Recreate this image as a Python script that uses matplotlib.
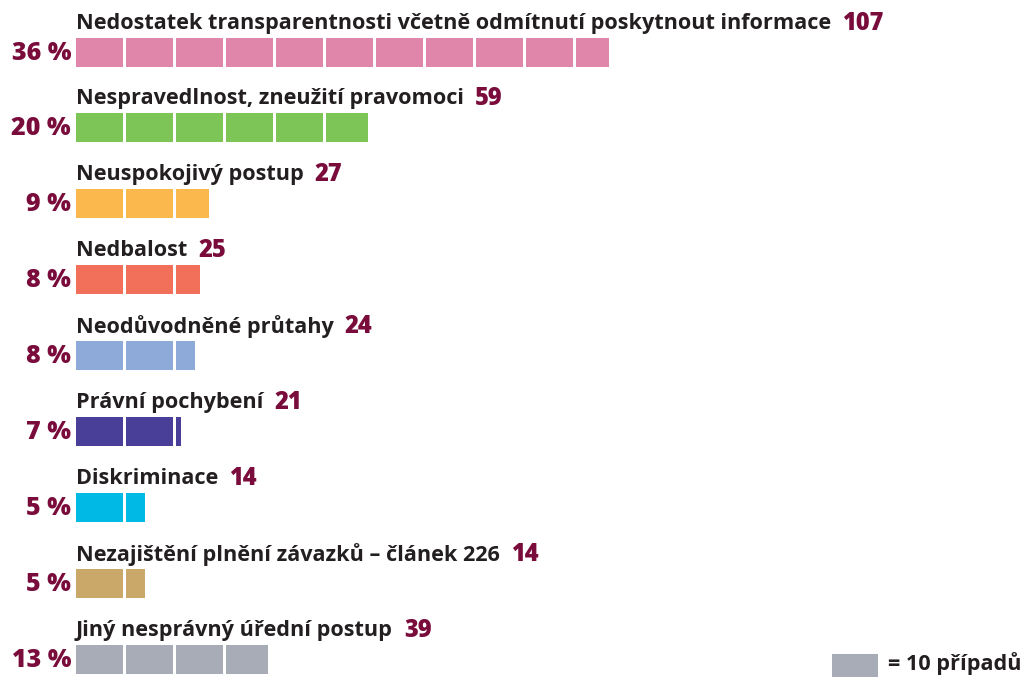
import matplotlib.pyplot as plt
from matplotlib.patches import Rectangle

# data
labels = [
    "Nedostatek transparentnosti včetně odmítnutí poskytnout informace",
    "Nespravedlnost, zneužití pravomoci",
    "Neuspokojivý postup",
    "Nedbalost",
    "Neodůvodněné průtahy",
    "Právní pochybení",
    "Diskriminace",
    "Nezajištění plnění závazků – článek 226",
    "Jiný nesprávný úřední postup",
]
counts = [107, 59, 27, 25, 24, 21, 14, 14, 39]
percents = ["36 %", "20 %", "9 %", "8 %", "8 %", "7 %", "5 %", "5 %", "13 %"]
colors = ["#df86aa", "#7dc557", "#fbb84c", "#f26f5a", "#8eaad8",
          "#4a3f98", "#00b9e4", "#c9a86a", "#a8acb7"]
unit = 10  # one block = 10 cases

maroon = "#7a0c3c"
text_dark = "#231f20"
font = ["Open Sans", "DejaVu Sans"]

fig = plt.figure(figsize=(10.27, 6.77), dpi=100)
ax = fig.add_axes([0, 0, 1, 1])
# x in cases, y in pixels from top
px_per_case = 5.0
x0_px = 76
ax.set_xlim(-x0_px / px_per_case, (1027 - x0_px) / px_per_case)
ax.set_ylim(677, 0)
ax.axis("off")

row_gap = 75.9
bar_h = 29
for i, (lab, n, pct, col) in enumerate(zip(labels, counts, percents, colors)):
    yc = 52 + i * row_gap
    # blocks of 10 with white gaps
    k = 0
    while k * unit < n:
        w = min(unit, n - k * unit) * 0.94
        ax.add_patch(Rectangle((k * unit, yc - bar_h / 2), w, bar_h,
                               facecolor=col, edgecolor="none"))
        k += 1
    ax.text(-1.0, yc + 1, pct, ha="right", va="center", fontsize=18,
            fontweight="heavy", color=maroon, family=font)
    t = ax.text(0, yc - 29, lab, ha="left", va="center", fontsize=15.6,
                fontweight="bold", color=text_dark, family=font)
    ax.annotate(str(n), xy=(1, 0.5), xycoords=t, xytext=(8, 0),
                textcoords="offset points", ha="left", va="center",
                fontsize=17, fontweight="heavy", color=maroon, family=font)

# legend block
ax.add_patch(Rectangle(((832 - x0_px) / px_per_case, 654), 46 / px_per_case, 26,
                       facecolor=colors[-1], edgecolor="none"))
ax.text((888 - x0_px) / px_per_case, 664, "= 10 případů", ha="left", va="center",
        fontsize=15.6, fontweight="bold", color=text_dark, family=font)

fig.savefig("out.png", dpi=100)
